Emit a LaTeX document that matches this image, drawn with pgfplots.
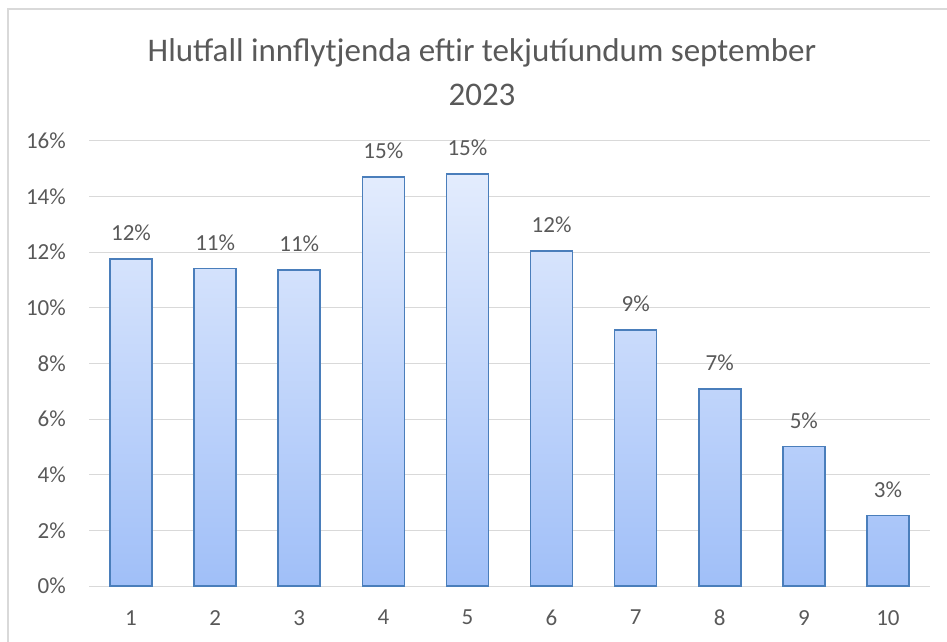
\documentclass[border=0pt]{standalone}
\usepackage{fontspec}
\setmainfont{Carlito}
\usepackage{pgfplots}
\pgfplotsset{compat=1.18}

\definecolor{txt}{HTML}{595959}
\definecolor{gridc}{HTML}{D9D9D9}
\definecolor{barline}{HTML}{4A7EBB}
\definecolor{bartop}{HTML}{E3ECFD}
\definecolor{barbot}{HTML}{A0BFF8}

\begin{document}
\begin{tikzpicture}
\path[use as bounding box] (0pt,0pt) rectangle (947pt,641pt);
% chart frame (only left and top edges are visible)
\draw[gridc, line width=1.2pt] (8pt,-2pt) -- (8pt,632pt) -- (949pt,632pt);
% title
\node[txt, font=\fontsize{33}{40}\selectfont, anchor=base] at (482pt,579pt)
  {Hlutfall innflytjenda eftir tekjutíundum september};
\node[txt, font=\fontsize{33}{40}\selectfont, anchor=base] at (482pt,535pt) {2023};

\begin{axis}[
  at={(89pt,55pt)}, anchor=south west,
  scale only axis, width=841pt, height=445pt,
  ybar, bar width=42pt,
  xmin=0.5, xmax=10.5, ymin=0, ymax=16,
  enlargelimits=false, clip=false,
  separate axis lines,
  axis line style={draw=none},
  major tick length=0pt,
  xtick={1,...,10}, ytick={0,2,...,16},
  ymajorgrids, major grid style={gridc, line width=1pt},
  /pgf/number format/assume math mode=true,
  yticklabel={\pgfmathprintnumber{\tick}\%},
  yticklabel style={txt, font=\fontsize{23}{28}\selectfont, anchor=east, inner sep=0pt, xshift=-23pt},
  xticklabel style={txt, font=\fontsize{23}{28}\selectfont, anchor=north, inner sep=0pt, yshift=-24pt},
  nodes near coords={\pgfmathprintnumber[fixed,precision=0]{\pgfplotspointmeta}\%},
  every node near coord/.append style={txt, font=\fontsize{23}{28}\selectfont, anchor=center, inner sep=0pt, yshift=26pt},
]
\addplot[draw=barline, line width=1.6pt, top color=bartop, bottom color=barbot] coordinates {
  (1,11.76) (2,11.41) (3,11.36) (4,14.71) (5,14.81)
  (6,12.05) (7,9.21) (8,7.09) (9,5.02) (10,2.54)
};
\end{axis}
\end{tikzpicture}
\end{document}
